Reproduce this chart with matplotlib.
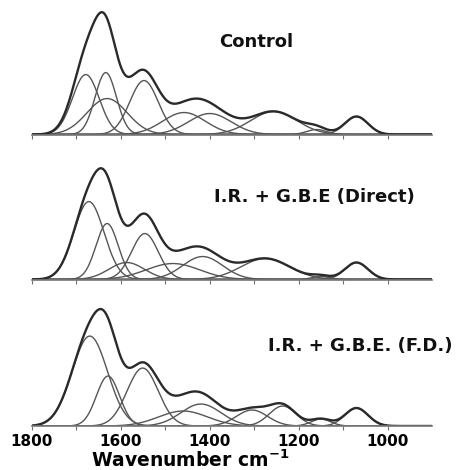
import numpy as np
import matplotlib.pyplot as plt

# band parameters:
# centre (cm-1), height (px above baseline), sigma (cm-1)
ctrl_pos = [1679, 1634, 1631, 1548, 1458, 1400, 1256, 1160, 1070]
ctrl_amp = [60, 62, 36, 54, 22, 21, 23, 5, 18]
ctrl_wid = [30, 24, 45, 32, 48, 48, 52, 22, 26]

dir_pos = [1672, 1631, 1587, 1546, 1483, 1416, 1275, 1150, 1070]
dir_amp = [78, 56, 17, 46, 16, 23, 21, 3, 17]
dir_wid = [34, 25, 40, 30, 60, 45, 55, 20, 26]

fd_pos = [1670, 1629, 1551, 1460, 1420, 1305, 1236, 1150, 1070]
fd_amp = [90, 50, 58, 15, 22, 16, 20, 7, 18]
fd_wid = [40, 26, 35, 55, 45, 35, 30, 22, 26]

labels = ["Control", "I.R. + G.B.E (Direct)", "I.R. + G.B.E. (F.D.)"]
label_xy = [(0.558, 0.911), (0.686, 0.581), (0.784, 0.264)]
bottoms = [0.7138, 0.4053, 0.0936]

panels = [(ctrl_pos, ctrl_amp, ctrl_wid),
          (dir_pos, dir_amp, dir_wid),
          (fd_pos, fd_amp, fd_wid)]

wn = np.linspace(1800, 900, 1500)

fig = plt.figure(figsize=(4.59, 4.70), dpi=100)

for i, (pos, amp, wid) in enumerate(panels):
    ax = fig.add_axes([0.0697, bottoms[i], 0.8715, 0.27])
    total = np.zeros_like(wn)
    for p, a, w in zip(pos, amp, wid):
        band = a * np.exp(-(wn - p) ** 2 / (2 * w ** 2))
        total += band
        ax.plot(wn, band, color='#555555', lw=1.0)
    ax.plot(wn, total, color='#2a2a2a', lw=1.7)

    ax.set_xlim(1800, 900)
    ax.set_ylim(0, 127)
    for s in ['top', 'left', 'right']:
        ax.spines[s].set_visible(False)
    ax.spines['bottom'].set_color('#777777')
    ax.spines['bottom'].set_linewidth(1.2)
    ax.set_yticks([])
    ax.set_xticks([1800, 1600, 1400, 1200, 1000])
    ax.set_xticks([1700, 1500, 1300, 1100], minor=True)
    ax.tick_params(axis='x', which='both', direction='out', length=3,
                   width=0.8, color='#707070', pad=3)
    if i < 2:
        ax.set_xticklabels([])
    else:
        ax.set_xticklabels(['1800', '1600', '1400', '1200', '1000'],
                           fontsize=11, fontweight='bold')
    fig.text(label_xy[i][0], label_xy[i][1], labels[i], ha='center',
             va='center', fontsize=13, fontweight='bold', color='#111111')

fig.text(0.415, 0.006, r'Wavenumber cm$^{\mathbf{-1}}$', ha='center',
         va='baseline', fontsize=13.5, fontweight='bold')

plt.savefig('out.png', dpi=100)
